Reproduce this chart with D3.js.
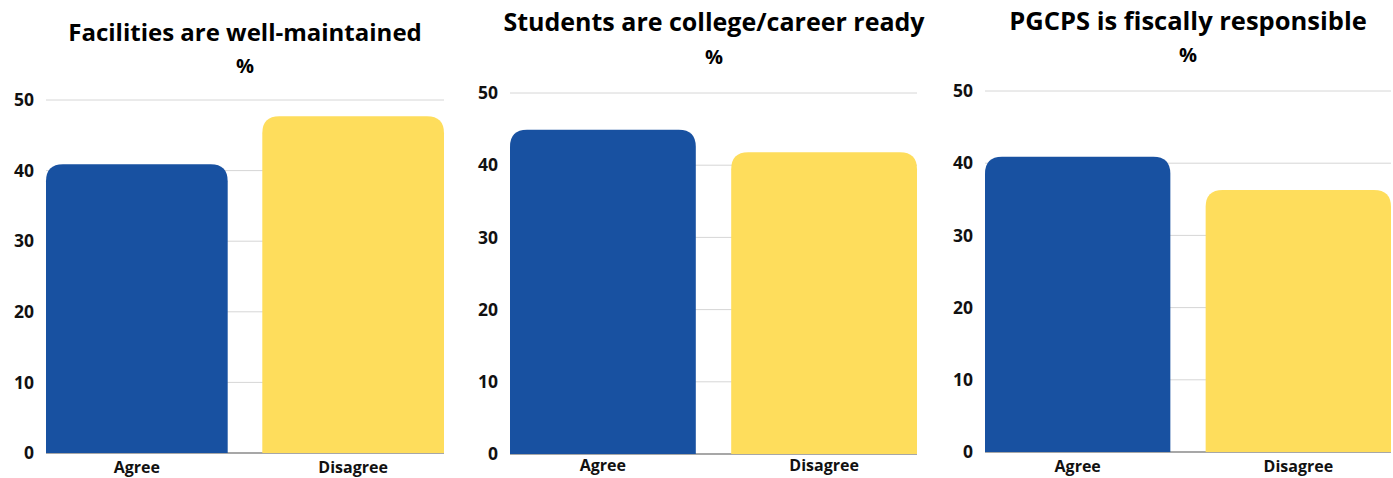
<!DOCTYPE html>
<html>
<head>
<meta charset="utf-8">
<script src="https://cdn.jsdelivr.net/npm/d3@7"></script>
<style>
  body { margin: 0; background: #fff; }
  svg { display: block; font-family: "Open Sans", "DejaVu Sans", sans-serif; }
  .title { font-weight: 700; fill: #000; }
  .tick text { font-weight: 700; fill: #111; }
</style>
</head>
<body>
<svg id="chart" width="1393" height="478"></svg>
<script>
const TITLES     = ["Facilities are well-maintained", "Students are college/career ready", "PGCPS is fiscally responsible"];
const CATEGORIES = ["Agree", "Disagree"];
const VALUES_1   = [40.9, 47.7];
const VALUES_2   = [44.9, 41.8];
const VALUES_3   = [40.9, 36.3];
const Y_TICKS    = [0, 10, 20, 30, 40, 50];
const SERIES     = [VALUES_1, VALUES_2, VALUES_3];

const COLORS = ["#1851a1", "#fedd5c"];

// panel geometry
const PANELS = [
  { x0: 46,  x1: 444,  yTop: 100, yBot: 453, titleX: 245,  titleY: 41, pctY: 73, titleSize: 24,   labelPad: 9 },
  { x0: 510, x1: 917,  yTop: 93,  yBot: 454, titleX: 714,  titleY: 31, pctY: 64, titleSize: 25,   labelPad: 6 },
  { x0: 985, x1: 1391, yTop: 91,  yBot: 452, titleX: 1188, titleY: 30, pctY: 62, titleSize: 25.5, labelPad: 9 },
];

const svg = d3.select("#chart");

function topRoundedRect(x, y, w, h, r) {
  r = Math.min(r, w / 2, h);
  return `M${x},${y + h}V${y + r}Q${x},${y} ${x + r},${y}H${x + w - r}Q${x + w},${y} ${x + w},${y + r}V${y + h}Z`;
}

PANELS.forEach((p, i) => {
  const g = svg.append("g");
  const values = SERIES[i];

  const x = d3.scaleBand()
    .domain(CATEGORIES)
    .range([p.x0, p.x1])
    .paddingInner(0.16)
    .paddingOuter(0);

  const y = d3.scaleLinear()
    .domain([0, 50])
    .range([p.yBot, p.yTop]);

  g.append("text")
    .attr("class", "title")
    .attr("x", p.titleX).attr("y", p.titleY)
    .attr("text-anchor", "middle")
    .attr("font-size", p.titleSize)
    .text(TITLES[i]);

  g.append("text")
    .attr("class", "title")
    .attr("x", p.titleX).attr("y", p.pctY)
    .attr("text-anchor", "middle")
    .attr("font-size", 20)
    .text("%");

  g.append("g")
    .selectAll("line")
    .data(Y_TICKS.filter(d => d > 0))
    .join("line")
      .attr("x1", p.x0).attr("x2", p.x1)
      .attr("y1", d => y(d)).attr("y2", d => y(d))
      .attr("stroke", "#d6d6d6")
      .attr("stroke-width", 1);

  g.append("line")
    .attr("x1", p.x0).attr("x2", p.x1)
    .attr("y1", y(0)).attr("y2", y(0))
    .attr("stroke", "#8a8a8a")
    .attr("stroke-width", 1.5);

  g.append("g")
    .attr("transform", `translate(${p.x0 - 12},0)`)
    .call(d3.axisLeft(y).tickValues(Y_TICKS).tickSize(0).tickPadding(0))
    .call(ax => ax.select(".domain").remove())
    .selectAll("text")
      .attr("font-size", 17.5)
      .attr("font-family", "\"Open Sans\", sans-serif");

  g.selectAll(".bar")
    .data(values)
    .join("path")
      .attr("class", "bar")
      .attr("d", (d, j) => topRoundedRect(x(CATEGORIES[j]), y(d), x.bandwidth(), y(0) - y(d), 17))
      .attr("fill", (d, j) => COLORS[j]);

  g.append("g")
    .attr("transform", `translate(0,${y(0)})`)
    .call(d3.axisBottom(x).tickSize(0).tickPadding(p.labelPad))
    .call(ax => ax.select(".domain").remove())
    .selectAll("text")
      .attr("font-size", 16)
      .attr("font-family", "\"Open Sans\", sans-serif");
});
</script>
</body>
</html>
